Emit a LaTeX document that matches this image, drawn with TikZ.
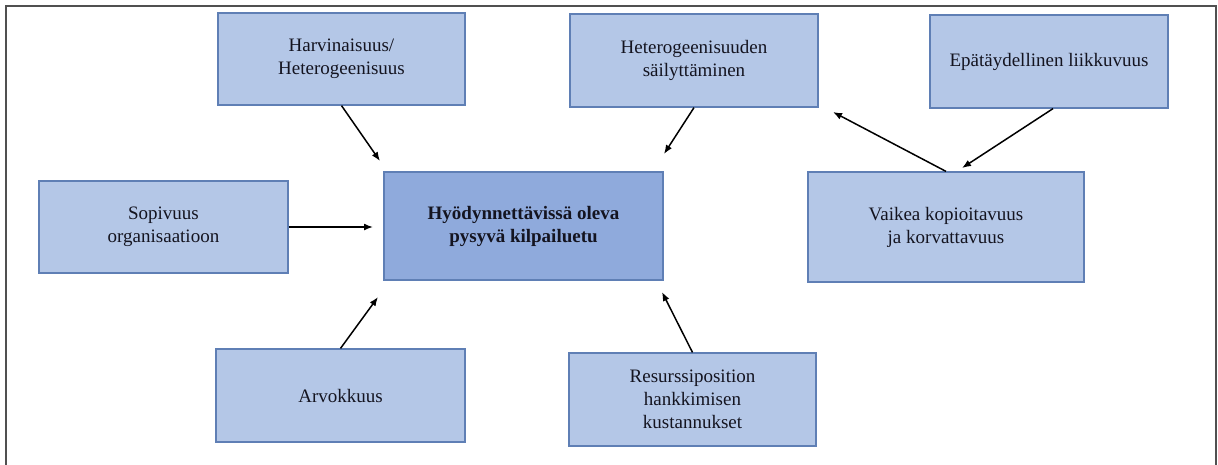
\documentclass[tikz,border=0pt]{standalone}
\usepackage{fontspec}
\setmainfont{Liberation Serif}
\usetikzlibrary{arrows.meta}
\definecolor{boxfill}{HTML}{B4C7E7}
\definecolor{boxline}{HTML}{5F7FB5}
\definecolor{mainfill}{HTML}{8FAADC}
\definecolor{framecol}{HTML}{505050}
\definecolor{txt}{HTML}{141420}
\begin{document}
\begin{tikzpicture}[x=1pt,y=-1pt,
  box/.style={rectangle, draw=boxline, fill=boxfill, line width=1.2pt, inner sep=0pt, align=center,
    font=\fontsize{19}{23}\selectfont, text=txt},
  mainbox/.style={box, fill=mainfill, font=\fontsize{19}{23}\selectfont\bfseries},
  arr/.style={line width=1.5pt, -{Latex[length=9pt,width=7pt]}},
  framestyle/.style={draw=framecol, line width=1.6pt}]
\useasboundingbox (0,0) rectangle (1218,464);
\draw[framestyle] (6,470) -- (6,6) -- (1216,6) -- (1216,470);

\node[box, minimum width=247pt, minimum height=92pt] (harv) at (341.5,59) {Harvinaisuus/\\Heterogeenisuus};
\node[box, minimum width=248pt, minimum height=93pt] (het) at (694,60.5) {Heterogeenisuuden\\säilyttäminen};
\node[box, minimum width=238pt, minimum height=93pt] (epa) at (1049,61.5) {Epätäydellinen liikkuvuus};
\node[box, minimum width=249pt, minimum height=92pt] (sop) at (163.5,227) {Sopivuus\\organisaatioon};
\node[mainbox, minimum width=279pt, minimum height=108pt] (cen) at (523.5,226) {Hyödynnettävissä oleva\\pysyvä kilpailuetu};
\node[box, minimum width=276pt, minimum height=110pt] (vai) at (946,227) {Vaikea kopioitavuus\\ja korvattavuus};
\node[box, minimum width=249pt, minimum height=93pt] (arv) at (340.5,395.5) {Arvokkuus};
\node[box, minimum width=247pt, minimum height=93pt] (res) at (692.5,399.5) {Resurssiposition\\hankkimisen\\kustannukset};

\coordinate (t1) at (380,161);
\coordinate (t2) at (664,154);
\coordinate (t3) at (833,112);
\coordinate (t4) at (962,168);
\coordinate (t5) at (373,227);
\coordinate (t6) at (378,297);
\coordinate (t7) at (662,292);

\draw[arr] (harv.south) -- (t1);
\draw[arr] (het.south) -- (t2);
\draw[arr] (vai.north) -- (t3);
\draw[arr] ([xshift=4pt]epa.south) -- (t4);
\draw[arr] (sop.east) -- (t5);
\draw[arr] (arv.north) -- (t6);
\draw[arr] (res.north) -- (t7);
\end{tikzpicture}
\end{document}
